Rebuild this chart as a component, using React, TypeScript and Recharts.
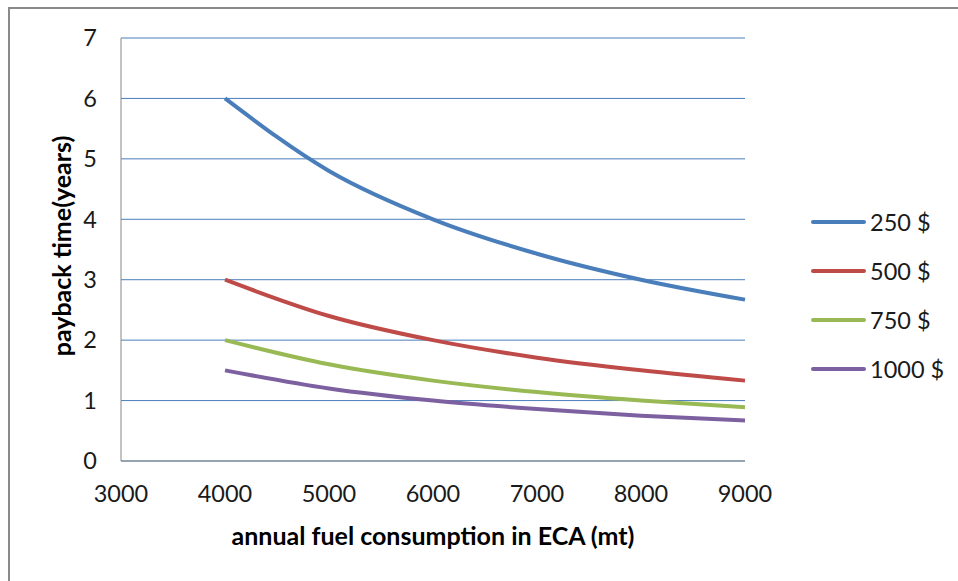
import { LineChart, Line, XAxis, YAxis, CartesianGrid } from 'recharts';

const fuel = [4000, 5000, 6000, 7000, 8000, 9000];
const cost250 = [6, 4.8, 4, 3.43, 3, 2.67];
const cost500 = [3, 2.4, 2, 1.71, 1.5, 1.33];
const cost750 = [2, 1.6, 1.33, 1.14, 1, 0.89];
const cost1000 = [1.5, 1.2, 1, 0.86, 0.75, 0.67];
const xTicks = [3000, 4000, 5000, 6000, 7000, 8000, 9000];
const yTicks = [0, 1, 2, 3, 4, 5, 6, 7];

const series = [
  { key: 'c250', name: '250 $', color: '#4a7ebb', values: cost250 },
  { key: 'c500', name: '500 $', color: '#be4b48', values: cost500 },
  { key: 'c750', name: '750 $', color: '#98b954', values: cost750 },
  { key: 'c1000', name: '1000 $', color: '#7d60a0', values: cost1000 },
];

const data = fuel.map((x, i) => {
  const row: any = { x };
  series.forEach(s => { row[s.key] = s.values[i]; });
  return row;
});

const FONT = 'Lato, "Open Sans", sans-serif';

function LegendBox() {
  return (
    <div style={{ position: 'absolute', left: 811, top: 197, fontFamily: FONT }}>
      {series.map(s => (
        <div key={s.key} style={{ display: 'flex', alignItems: 'center', height: 49 }}>
          <div style={{ width: 55, height: 4, borderRadius: 2, background: s.color, marginRight: 4 }} />
          <span style={{ fontSize: 23.5, color: '#1a1a1a' }}>{s.name}</span>
        </div>
      ))}
    </div>
  );
}

export default function App() {
  return (
    <div style={{ position: 'absolute', left: 0, top: 0, width: 958, height: 581, overflow: 'hidden', background: '#fff' }}>
      <div style={{ position: 'absolute', left: 8, top: 7, width: 1200, height: 1200, border: '2px solid #8a8a8a' }} />
      <div style={{ position: 'absolute', left: 0, top: 0 }}>
        <LineChart width={958} height={581} data={data} margin={{ top: 38, right: 213, left: 61, bottom: 60 }}>
          <CartesianGrid vertical={false} stroke="#4a7ebb" strokeWidth={1} />
          <XAxis
            dataKey="x"
            type="number"
            domain={[3000, 9000]}
            ticks={xTicks}
            tickLine={false}
            tickSize={0}
            tickMargin={24}
            height={60}
            stroke="#868686"
            tick={{ fill: '#1a1a1a', fontSize: 23.5, fontFamily: FONT }}
            label={{
              content: () => (
                <text x={433} y={545} textAnchor="middle" fontFamily={FONT} fontWeight={700} fontSize={25} fill="#000">
                  annual fuel consumption in ECA (mt)
                </text>
              ),
            }}
          />
          <YAxis
            type="number"
            domain={[0, 7]}
            ticks={yTicks}
            width={60}
            tickLine={false}
            tickSize={0}
            tickMargin={24}
            stroke="#868686"
            tick={{ fill: '#1a1a1a', fontSize: 23.5, fontFamily: FONT }}
            label={{
              content: () => (
                <text transform="translate(71,246) rotate(-90)" textAnchor="middle" fontFamily={FONT} fontWeight={700} fontSize={25} fill="#000">
                  payback time(years)
                </text>
              ),
            }}
          />
          {series.map(s => (
            <Line
              key={s.key}
              dataKey={s.key}
              name={s.name}
              type="monotone"
              stroke={s.color}
              strokeWidth={4}
              dot={false}
              isAnimationActive={false}
            />
          ))}
        </LineChart>
      </div>
      <LegendBox />
    </div>
  );
}
